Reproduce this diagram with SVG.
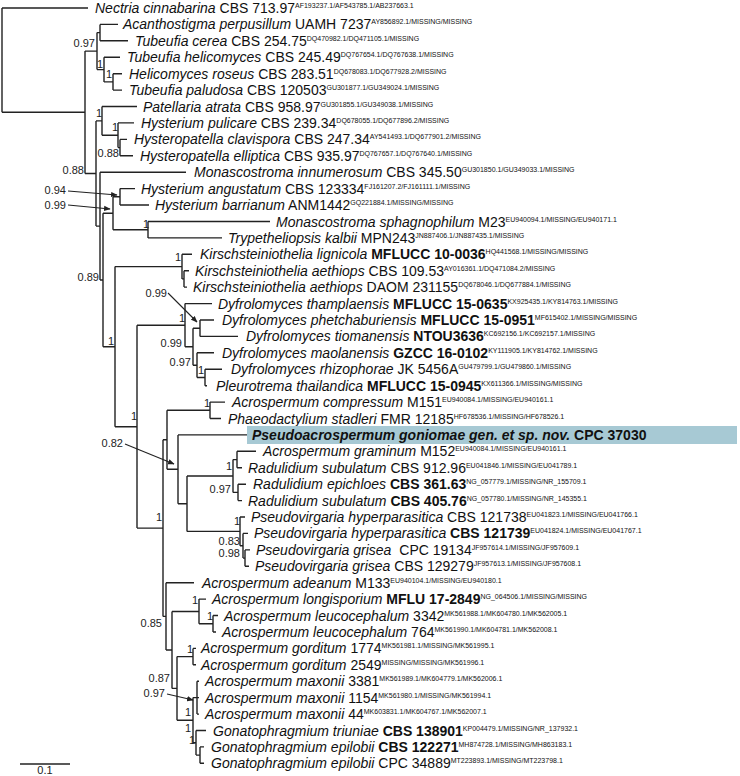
<svg xmlns="http://www.w3.org/2000/svg" width="740" height="776" viewBox="0 0 740 776">
<defs>
<style>
.t{font-family:"Liberation Sans",Arial,sans-serif;font-size:14px;font-style:italic;fill:#111}
.s{font-style:normal}
.b{font-style:normal;font-weight:bold}
.bi{font-weight:bold}
.sup{font-style:normal;font-weight:normal;font-size:7px}
.l{font-family:"Liberation Sans",Arial,sans-serif;font-size:11px;fill:#222;text-anchor:end}
.e{fill:none;stroke:#222;stroke-width:1.4}
.a{fill:none;stroke:#222;stroke-width:1.1;marker-end:url(#ah)}
</style>
<marker id="ah" viewBox="0 0 10 10" refX="9" refY="5" markerWidth="6" markerHeight="6" orient="auto"><path d="M0,1 L10,5 L0,9 z" fill="#222"/></marker>
</defs>
<rect width="740" height="776" fill="#fff"/>
<g id="connectors">
<path class="e" d="M2,8 V112.3 M2,8 H88 M2,112.3 H85
M85,51.1 V173.5 M85,51.1 H97 M85,173.5 H96
M97,32.6 V69.6 M97,32.6 H100 M97,69.6 H104
M100,24.4 V40.8 M100,24.4 H118 M100,40.8 H128
M104,57.3 V81.9 M104,57.3 H120 M104,81.9 H113
M113,73.7 V90.1 M113,73.7 H122 M113,90.1 H122
M96,120.9 V226.1 M96,120.9 H102 M96,226.1 H100
M102,106.5 V135.3 M102,106.5 H137 M102,135.3 H118
M118,122.9 V147.6 M118,122.9 H134 M118,147.6 H120
M120,139.4 V155.8 M120,139.4 H127 M120,155.8 H133
M100,172.2 V280 M100,172.2 H186 M100,280 H103
M103,213.3 V346.7 M103,213.3 H113 M103,346.7 H115
M113,196.8 V229.7 M113,196.8 H120 M113,229.7 H148
M120,188.6 V205 M120,188.6 H135 M120,205 H149
M148,221.5 V237.9 M148,221.5 H270 M148,237.9 H222
M115,266.6 V426.7 M115,266.6 H182 M115,426.7 H137
M182,254.3 V278.9 M182,254.3 H192 M182,278.9 H184
M184,270.7 V287.1 M184,270.7 H189 M184,287.1 H187
M137,325.2 V528.1 M137,325.2 H185 M137,528.1 H163
M185,303.6 V346.7 M185,303.6 H212 M185,346.7 H193
M193,328.2 V365.2 M193,328.2 H200 M193,365.2 H197
M200,320 V336.4 M200,320 H214 M200,336.4 H238
M197,352.8 V377.5 M197,352.8 H214 M197,377.5 H205
M205,369.2 V385.7 M205,369.2 H222 M205,385.7 H207
M163,439.8 V616.4 M163,439.8 H167 M163,616.4 H166
M167,410.3 V469.3 M167,410.3 H210 M167,469.3 H178
M210,402.1 V418.5 M210,402.1 H225 M210,418.5 H221
M178,434.9 V503.7 M178,434.9 H247 M178,503.7 H187
M187,476 V531.4 M187,476 H233 M187,531.4 H240
M233,459.6 V492.4 M233,459.6 H237 M233,492.4 H238
M237,451.3 V467.8 M237,451.3 H256 M237,467.8 H242
M238,484.2 V500.6 M238,484.2 H246 M238,500.6 H242
M240,517 V545.8 M240,517 H245 M240,545.8 H243
M243,533.4 V558.1 M243,533.4 H248 M243,558.1 H245
M245,549.9 V566.3 M245,549.9 H250 M245,566.3 H249
M166,582.7 V650 M166,582.7 H194 M166,650 H172
M172,611.5 V688.4 M172,611.5 H199 M172,688.4 H177
M199,599.1 V623.8 M199,599.1 H206 M199,623.8 H213
M213,615.5 V632 M213,615.5 H218 M213,632 H216
M177,656.6 V720.2 M177,656.6 H193 M177,720.2 H193
M193,648.4 V664.8 M193,648.4 H196 M193,664.8 H196
M193,697.6 V742.8 M193,697.6 H197 M193,742.8 H196
M197,681.2 V714.1 M197,681.2 H199 M197,697.6 H199 M197,714.1 H199
M196,730.5 V755.1 M196,730.5 H206 M196,755.1 H200
M200,746.9 V763.3 M200,746.9 H204 M200,763.3 H204"/>
<path class="a" d="M68,191 L117,195"/>
<path class="a" d="M68,205 L110,209"/>
<path class="a" d="M168,293 L197,322"/>
<path class="a" d="M125,444 L174,464"/>
<path class="a" d="M167,694 L193,700"/>
</g>
<g id="support">
<text class="l" x="95" y="47">0.97</text>
<text class="l" x="103" y="68">1</text>
<text class="l" x="112" y="78">1</text>
<text class="l" x="102" y="117">1</text>
<text class="l" x="118" y="131">1</text>
<text class="l" x="119" y="157">0.88</text>
<text class="l" x="84" y="174">0.88</text>
<text class="l" x="66" y="194">0.94</text>
<text class="l" x="66" y="209">0.99</text>
<text class="l" x="149" y="228">1</text>
<text class="l" x="181" y="261">1</text>
<text class="l" x="99" y="281">0.89</text>
<text class="l" x="114" y="345">1</text>
<text class="l" x="167" y="297">0.99</text>
<text class="l" x="185" y="322">1</text>
<text class="l" x="182" y="347">0.99</text>
<text class="l" x="191" y="366">0.97</text>
<text class="l" x="204" y="374">1</text>
<text class="l" x="210" y="407">1</text>
<text class="l" x="137" y="420">1</text>
<text class="l" x="123" y="447">0.82</text>
<text class="l" x="232" y="470">1</text>
<text class="l" x="231" y="493">0.97</text>
<text class="l" x="240" y="525">1</text>
<text class="l" x="240" y="545">0.83</text>
<text class="l" x="240" y="557">0.98</text>
<text class="l" x="162" y="521">1</text>
<text class="l" x="198" y="604">1</text>
<text class="l" x="213" y="620">1</text>
<text class="l" x="162" y="627">0.85</text>
<text class="l" x="193" y="653">1</text>
<text class="l" x="170" y="682">0.87</text>
<text class="l" x="165" y="697">0.97</text>
<text class="l" x="191" y="716">1</text>
<text class="l" x="191" y="732">1</text>
<text class="l" x="195" y="744">1</text>
</g>
<g id="n0"><text class="t" x="95" y="13">Nectria cinnabarina<tspan class="s"> CBS 713.97</tspan><tspan class="sup" dy="-5">AF193237.1/AF543785.1/AB237663.1</tspan></text></g>
<g id="n1"><text class="t" x="123" y="29.4">Acanthostigma perpusillum<tspan class="s"> UAMH 7237</tspan><tspan class="sup" dy="-5">AY856892.1/MISSING/MISSING</tspan></text></g>
<g id="n2"><text class="t" x="135" y="45.8">Tubeufia cerea<tspan class="s"> CBS 254.75</tspan><tspan class="sup" dy="-5">DQ470982.1/DQ471105.1/MISSING</tspan></text></g>
<g id="n3"><text class="t" x="127" y="62.3">Tubeufia helicomyces<tspan class="s"> CBS 245.49</tspan><tspan class="sup" dy="-5">DQ767654.1/DQ767638.1/MISSING</tspan></text></g>
<g id="n4"><text class="t" x="129" y="78.7">Helicomyces roseus<tspan class="s"> CBS 283.51</tspan><tspan class="sup" dy="-5">DQ678083.1/DQ677928.2/MISSING</tspan></text></g>
<g id="n5"><text class="t" x="129" y="95.1">Tubeufia paludosa<tspan class="s"> CBS 120503</tspan><tspan class="sup" dy="-5">GU301877.1/GU349024.1/MISSING</tspan></text></g>
<g id="n6"><text class="t" x="143" y="111.5">Patellaria atrata<tspan class="s"> CBS 958.97</tspan><tspan class="sup" dy="-5">GU301855.1/GU349038.1/MISSING</tspan></text></g>
<g id="n7"><text class="t" x="141" y="127.9">Hysterium pulicare<tspan class="s"> CBS 239.34</tspan><tspan class="sup" dy="-5">DQ678055.1/DQ677896.2/MISSING</tspan></text></g>
<g id="n8"><text class="t" x="134" y="144.4">Hysteropatella clavispora<tspan class="s"> CBS 247.34</tspan><tspan class="sup" dy="-5">AY541493.1/DQ677901.2/MISSING</tspan></text></g>
<g id="n9"><text class="t" x="140" y="160.8">Hysteropatella elliptica<tspan class="s"> CBS 935.97</tspan><tspan class="sup" dy="-5">DQ767657.1/DQ767640.1/MISSING</tspan></text></g>
<g id="n10"><text class="t" x="194" y="177.2">Monascostroma innumerosum<tspan class="s"> CBS 345.50</tspan><tspan class="sup" dy="-5">GU301850.1/GU349033.1/MISSING</tspan></text></g>
<g id="n11"><text class="t" x="141" y="193.6">Hysterium angustatum<tspan class="s"> CBS 123334</tspan><tspan class="sup" dy="-5">FJ161207.2/FJ161111.1/MISSING</tspan></text></g>
<g id="n12"><text class="t" x="155" y="210">Hysterium barrianum<tspan class="s"> ANM1442</tspan><tspan class="sup" dy="-5">GQ221884.1/MISSING/MISSING</tspan></text></g>
<g id="n13"><text class="t" x="276" y="226.5">Monascostroma sphagnophilum<tspan class="s"> M23</tspan><tspan class="sup" dy="-5">EU940094.1/MISSING/EU940171.1</tspan></text></g>
<g id="n14"><text class="t" x="228" y="242.9">Trypetheliopsis kalbii<tspan class="s"> MPN243</tspan><tspan class="sup" dy="-5">JN887406.1/JN887435.1/MISSING</tspan></text></g>
<g id="n15"><text class="t" x="200" y="259.3">Kirschsteiniothelia lignicola<tspan class="b"> MFLUCC 10-0036</tspan><tspan class="sup" dy="-5">HQ441568.1/MISSING/MISSING</tspan></text></g>
<g id="n16"><text class="t" x="195" y="275.7">Kirschsteiniothelia aethiops<tspan class="s"> CBS 109.53</tspan><tspan class="sup" dy="-5">AY016361.1/DQ471084.2/MISSING</tspan></text></g>
<g id="n17"><text class="t" x="193" y="292.1">Kirschsteiniothelia aethiops<tspan class="s"> DAOM 231155</tspan><tspan class="sup" dy="-5">DQ678046.1/DQ677884.1/MISSING</tspan></text></g>
<g id="n18"><text class="t" x="218" y="308.6">Dyfrolomyces thamplaensis<tspan class="b"> MFLUCC 15-0635</tspan><tspan class="sup" dy="-5">KX925435.1/KY814763.1/MISSING</tspan></text></g>
<g id="n19"><text class="t" x="222" y="325">Dyfrolomyces phetchaburiensis<tspan class="b"> MFLUCC 15-0951</tspan><tspan class="sup" dy="-5">MF615402.1/MISSING/MISSING</tspan></text></g>
<g id="n20"><text class="t" x="246" y="341.4">Dyfrolomyces tiomanensis<tspan class="b"> NTOU3636</tspan><tspan class="sup" dy="-5">KC692156.1/KC692157.1/MISSING</tspan></text></g>
<g id="n21"><text class="t" x="222" y="357.8">Dyfrolomyces maolanensis<tspan class="b"> GZCC 16-0102</tspan><tspan class="sup" dy="-5">KY111905.1/KY814762.1/MISSING</tspan></text></g>
<g id="n22"><text class="t" x="231" y="374.2">Dyfrolomyces rhizophorae<tspan class="s"> JK 5456A</tspan><tspan class="sup" dy="-5">GU479799.1/GU479860.1/MISSING</tspan></text></g>
<g id="n23"><text class="t" x="216" y="390.7">Pleurotrema thailandica<tspan class="b"> MFLUCC 15-0945</tspan><tspan class="sup" dy="-5">KX611366.1/MISSING/MISSING</tspan></text></g>
<g id="n24"><text class="t" x="232" y="407.1">Acrospermum compressum<tspan class="s"> M151</tspan><tspan class="sup" dy="-5">EU940084.1/MISSING/EU940161.1</tspan></text></g>
<g id="n25"><text class="t" x="228" y="423.5">Phaeodactylium stadleri<tspan class="s"> FMR 12185</tspan><tspan class="sup" dy="-5">HF678536.1/MISSING/HF678526.1</tspan></text></g>
<g id="n26"><rect x="247" y="426" width="490" height="18" fill="#a7c9d4"/><text class="t bi" x="252" y="440">Pseudoacrospermum goniomae gen. et sp. nov.<tspan class="b"> CPC 37030</tspan></text></g>
<g id="n27"><text class="t" x="263" y="456.3">Acrospermum graminum<tspan class="s"> M152</tspan><tspan class="sup" dy="-5">EU940084.1/MISSING/EU940161.1</tspan></text></g>
<g id="n28"><text class="t" x="248" y="472.8">Radulidium subulatum<tspan class="s"> CBS 912.96</tspan><tspan class="sup" dy="-5">EU041846.1/MISSING/EU041789.1</tspan></text></g>
<g id="n29"><text class="t" x="253" y="489.2">Radulidium epichloes<tspan class="b"> CBS 361.63</tspan><tspan class="sup" dy="-5">NG_057779.1/MISSING/NR_155709.1</tspan></text></g>
<g id="n30"><text class="t" x="248" y="505.6">Radulidium subulatum<tspan class="b"> CBS 405.76</tspan><tspan class="sup" dy="-5">NG_057780.1/MISSING/NR_145355.1</tspan></text></g>
<g id="n31"><text class="t" x="251" y="522">Pseudovirgaria hyperparasitica<tspan class="s"> CBS 121738</tspan><tspan class="sup" dy="-5">EU041823.1/MISSING/EU041766.1</tspan></text></g>
<g id="n32"><text class="t" x="254" y="538.4">Pseudovirgaria hyperparasitica<tspan class="b"> CBS 121739</tspan><tspan class="sup" dy="-5">EU041824.1/MISSING/EU041767.1</tspan></text></g>
<g id="n33"><text class="t" x="256" y="554.9">Pseudovirgaria grisea<tspan class="s" dx="4"> CPC 19134</tspan><tspan class="sup" dy="-5">JF957614.1/MISSING/JF957609.1</tspan></text></g>
<g id="n34"><text class="t" x="255" y="571.3">Pseudovirgaria grisea<tspan class="s"> CBS 129279</tspan><tspan class="sup" dy="-5">JF957613.1/MISSING/JF957608.1</tspan></text></g>
<g id="n35"><text class="t" x="202" y="587.7">Acrospermum adeanum<tspan class="s"> M133</tspan><tspan class="sup" dy="-5">EU940104.1/MISSING/EU940180.1</tspan></text></g>
<g id="n36"><text class="t" x="212" y="604.1">Acrospermum longisporium<tspan class="b"> MFLU 17-2849</tspan><tspan class="sup" dy="-5">NG_064506.1/MISSING/MISSING</tspan></text></g>
<g id="n37"><text class="t" x="224" y="620.5">Acrospermum leucocephalum<tspan class="s"> 3342</tspan><tspan class="sup" dy="-5">MK561988.1/MK604780.1/MK562005.1</tspan></text></g>
<g id="n38"><text class="t" x="222" y="637">Acrospermum leucocephalum<tspan class="s"> 764</tspan><tspan class="sup" dy="-5">MK561990.1/MK604781.1/MK562008.1</tspan></text></g>
<g id="n39"><text class="t" x="201" y="653.4">Acrospermum gorditum<tspan class="s"> 1774</tspan><tspan class="sup" dy="-5">MK561981.1/MISSING/MK561995.1</tspan></text></g>
<g id="n40"><text class="t" x="201" y="669.8">Acrospermum gorditum<tspan class="s"> 2549</tspan><tspan class="sup" dy="-5">MISSING/MISSING/MK561996.1</tspan></text></g>
<g id="n41"><text class="t" x="205" y="686.2">Acrospermum maxonii<tspan class="s"> 3381</tspan><tspan class="sup" dy="-5">MK561989.1/MK604779.1/MK562006.1</tspan></text></g>
<g id="n42"><text class="t" x="205" y="702.6">Acrospermum maxonii<tspan class="s"> 1154</tspan><tspan class="sup" dy="-5">MK561980.1/MISSING/MK561994.1</tspan></text></g>
<g id="n43"><text class="t" x="205" y="719.1">Acrospermum maxonii<tspan class="s"> 44</tspan><tspan class="sup" dy="-5">MK603831.1/MK604767.1/MK562007.1</tspan></text></g>
<g id="n44"><text class="t" x="213" y="735.5">Gonatophragmium triuniae<tspan class="b"> CBS 138901</tspan><tspan class="sup" dy="-5">KP004479.1/MISSING/NR_137932.1</tspan></text></g>
<g id="n45"><text class="t" x="211" y="751.9">Gonatophragmium epilobii<tspan class="b"> CBS 122271</tspan><tspan class="sup" dy="-5">MH874728.1/MISSING/MH863183.1</tspan></text></g>
<g id="n46"><text class="t" x="211" y="768.3">Gonatophragmium epilobii<tspan class="s"> CPC 34889</tspan><tspan class="sup" dy="-5">MT223893.1/MISSING/MT223798.1</tspan></text></g>
<g id="scale">
<path class="e" d="M20,764 H70"/>
<text class="l" x="45" y="774" style="text-anchor:middle">0.1</text>
</g>
</svg>
